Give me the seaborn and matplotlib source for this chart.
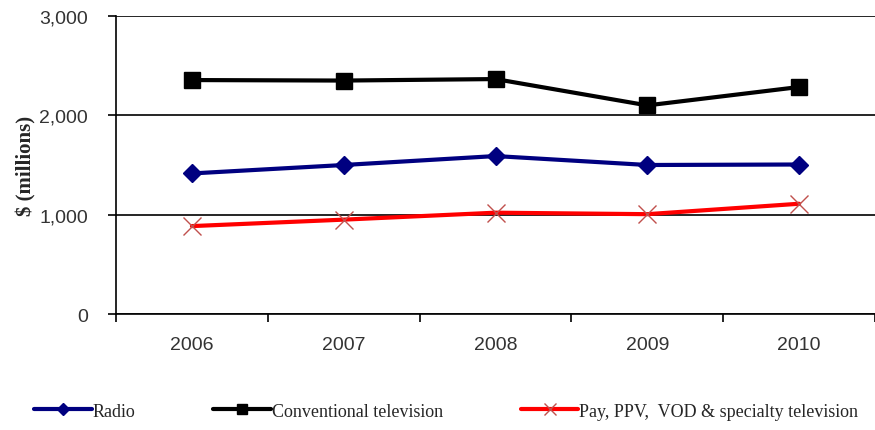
import numpy as np
import pandas as pd
import seaborn as sns
import matplotlib.pyplot as plt
from matplotlib.ticker import FixedLocator, FuncFormatter

# ------------ Data ------------
years = ["2006", "2007", "2008", "2009", "2010"]
radio = [1415, 1500, 1590, 1500, 1505]
conventional_tv = [2355, 2350, 2365, 2100, 2285]
pay_tv = [885, 950, 1020, 1005, 1110]

series_names = ["Radio", "Conventional television", "Pay, PPV,  VOD & specialty television"]
series_values = [radio, conventional_tv, pay_tv]

colors = ["#000080", "#000000", "#FF0000"]
markers = ["D", "s", "x"]
marker_sizes = [9, 11, 13]
marker_edge = ["#000080", "#000000", "#C0504D"]

# ------------ Plot ------------
sns.set_style("white")
plt.rcParams["font.family"] = ["Liberation Sans", "DejaVu Sans"]

fig = plt.figure(figsize=(8.75, 4.31), dpi=100)
ax = fig.add_axes([0.1326, 0.2691, 0.8674, 0.6915])

handles = []
for name, vals, col, mk, ms, me in zip(series_names, series_values, colors, markers, marker_sizes, marker_edge):
    d = pd.DataFrame({"Year": years, "Value": vals})
    sns.lineplot(data=d, x="Year", y="Value", color=col, marker=mk, markersize=ms,
                 markeredgecolor=me, markeredgewidth=1.0, linewidth=3, ax=ax, sort=False)
    handles.append(ax.lines[-1])

ax.set_xlim(-0.5, 4.5)
ax.set_ylim(0, 3000)
ax.set_yticks([0, 1000, 2000, 3000])
ax.yaxis.set_major_formatter(FuncFormatter(lambda v, p: f"{int(v):,}"))
ax.grid(axis="y", color="black", linewidth=1.2)
ax.set_axisbelow(True)

# tick marks at category boundaries, labels at centres
ax.set_xticks(range(len(years)))
ax.set_xticklabels(years)
ax.xaxis.set_minor_locator(FixedLocator(np.arange(-0.5, 5, 1)))
ax.tick_params(axis="x", which="major", bottom=True, length=0, pad=16, labelsize=14, labelcolor="#333333")
ax.tick_params(axis="x", which="minor", bottom=True, length=6, width=1.2, direction="out", color="black")
ax.tick_params(axis="y", which="major", left=True, length=6, width=1.2, direction="out", color="black",
               labelsize=14, labelcolor="#333333", pad=14)

for side in ["top", "right"]:
    ax.spines[side].set_visible(False)
for side in ["left", "bottom"]:
    ax.spines[side].set_color("black")
    ax.spines[side].set_linewidth(1.2)

ax.set_xlabel("")
ax.set_ylabel("$ (millions)", fontsize=15, fontweight="bold", family="Liberation Serif", labelpad=2)

# ------------ Legend ------------
fig.legend(handles, series_names, loc="center", bbox_to_anchor=(0.51, 0.044), ncol=3,
           frameon=False, handlelength=3.2, handletextpad=0.05, columnspacing=4.3,
           markerscale=0.7, prop={"family": "Liberation Serif", "size": 13})

plt.savefig("out.png", dpi=100)
